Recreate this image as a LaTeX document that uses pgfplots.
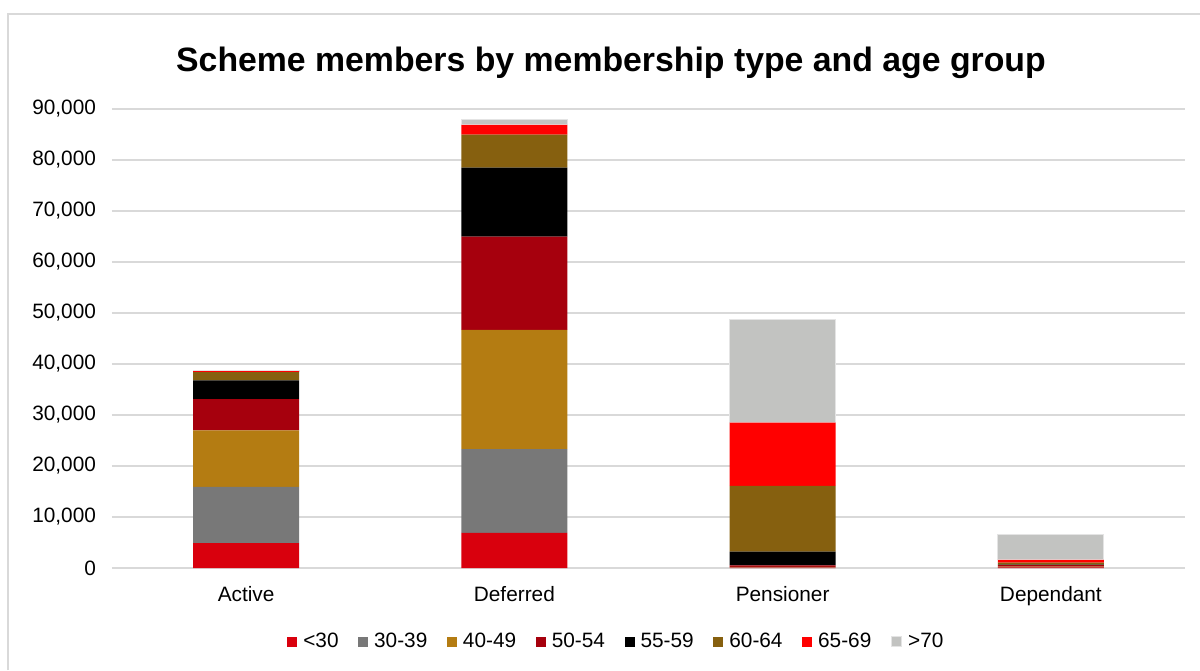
\documentclass[border=0pt]{standalone}
\usepackage{pgfplots}
\pgfplotsset{compat=1.18}
\usepackage{fontspec}
\setmainfont{Liberation Sans}
\definecolor{cA}{HTML}{D9000D}
\definecolor{cB}{HTML}{787878}
\definecolor{cC}{HTML}{B47C12}
\definecolor{cD}{HTML}{A6000D}
\definecolor{cE}{HTML}{000000}
\definecolor{cF}{HTML}{86600F}
\definecolor{cG}{HTML}{FF0000}
\definecolor{cH}{HTML}{C2C3C1}
\definecolor{gridc}{HTML}{D9D9D9}
\begin{document}
\begin{tikzpicture}
\path[use as bounding box] (-56pt,-51pt) rectangle (544pt,284pt);
\draw[gridc, line width=0.6pt] (-52pt,-51pt) -- (-52pt,277pt) -- (544pt,277pt);
\begin{axis}[
  scale only axis, width=536.5pt, height=229.5pt,
  at={(0pt,0pt)}, anchor=south west,
  ybar stacked, bar width=53pt,
  xmin=-0.5, xmax=3.5, ymin=0, ymax=90000,
  xtick={0,1,2,3}, xticklabels={Active,Deferred,Pensioner,Dependant},
  ytick={0,10000,20000,30000,40000,50000,60000,70000,80000,90000},
  scaled y ticks=false,
  yticklabel style={/pgf/number format/fixed, /pgf/number format/1000 sep={,}, xshift=-4.5pt},
  /pgf/number format/assume math mode=true,
  ymajorgrids, grid style={draw=gridc, line width=0.6pt},
  axis line style={draw=none},
  major tick length=0pt,
  tick label style={font=\fontsize{10.4}{12}\selectfont},
  xticklabel style={yshift=-5.5pt},
  legend style={at={(0.471,-0.161)}, anchor=center, legend columns=-1, draw=none,
    font=\fontsize{10.4}{12}\selectfont, column sep=0pt,
    /tikz/every even column/.append style={column sep=7.8pt},
    /tikz/every odd column/.append style={column sep=1pt}},
  legend image code/.code={\fill[#1] (0pt,-2.5pt) rectangle (5pt,2.5pt);},
  every axis plot/.append style={draw=none},
]
\addplot[fill=cA] coordinates {(0,4900) (1,6900) (2,50) (3,100)};
\addplot[fill=cB] coordinates {(0,11000) (1,16400) (2,50) (3,50)};
\addplot[fill=cC] coordinates {(0,11100) (1,23400) (2,100) (3,100)};
\addplot[fill=cD] coordinates {(0,6100) (1,18300) (2,300) (3,300)};
\addplot[fill=cE] coordinates {(0,3700) (1,13500) (2,2700) (3,100)};
\addplot[fill=cF] coordinates {(0,1600) (1,6500) (2,12900) (3,400)};
\addplot[fill=cG] coordinates {(0,200) (1,1900) (2,12400) (3,550)};
\addplot[fill=cH, draw=gridc!70, line width=0.6pt] coordinates {(0,200) (1,1100) (2,20300) (3,4900)};
\legend{<30,30-39,40-49,50-54,55-59,60-64,65-69,>70}
\end{axis}
\node[font=\bfseries\fontsize{16.9}{20}\selectfont] at (249.5pt,252.5pt) {Scheme members by membership type and age group};
\end{tikzpicture}
\end{document}
